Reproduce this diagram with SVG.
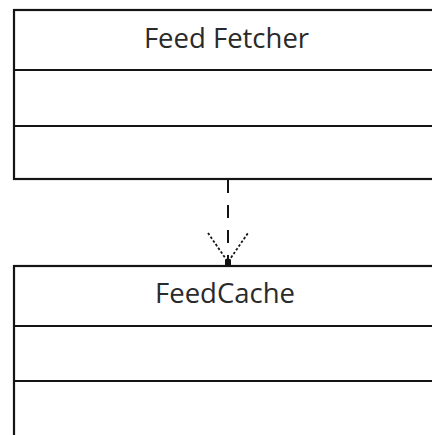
<svg xmlns="http://www.w3.org/2000/svg" width="432" height="435" viewBox="0 0 432 435">
  <style>
    .frame { fill: #ffffff; stroke: #141414; stroke-width: 2.2; }
    .rule { stroke: #141414; stroke-width: 2.2; }
    .title { font-family: "Open Sans", "DejaVu Sans", sans-serif; font-size: 27.5px; fill: #2a2a2a; text-anchor: middle; }
    .dep { stroke: #141414; stroke-width: 2; fill: none; stroke-dasharray: 13 12; }
    .head { stroke: #141414; stroke-width: 1.8; fill: none; stroke-dasharray: 2.5 2; }
  </style>
  <rect width="432" height="435" fill="#ffffff"/>

  <!-- Feed Fetcher class box -->
  <g id="feed-fetcher">
    <rect class="frame" x="14" y="10" width="440" height="169"/>
    <line class="rule" x1="14" y1="70" x2="440" y2="70"/>
    <line class="rule" x1="14" y1="126" x2="440" y2="126"/>
    <text class="title" x="226.5" y="48">Feed Fetcher</text>
  </g>

  <!-- FeedCache class box -->
  <g id="feed-cache">
    <rect class="frame" x="14" y="266" width="440" height="200"/>
    <line class="rule" x1="14" y1="326" x2="440" y2="326"/>
    <line class="rule" x1="14" y1="381" x2="440" y2="381"/>
    <text class="title" x="225" y="303">FeedCache</text>
  </g>

  <!-- dependency: Feed Fetcher uses FeedCache -->
  <g id="connectors">
    <line class="dep" x1="228" y1="180" x2="228" y2="262"/>
    <path class="head" d="M208 233 L228 262 L248 233"/>
    <rect x="225" y="259.5" width="6" height="6" fill="#111111"/>
  </g>
</svg>
